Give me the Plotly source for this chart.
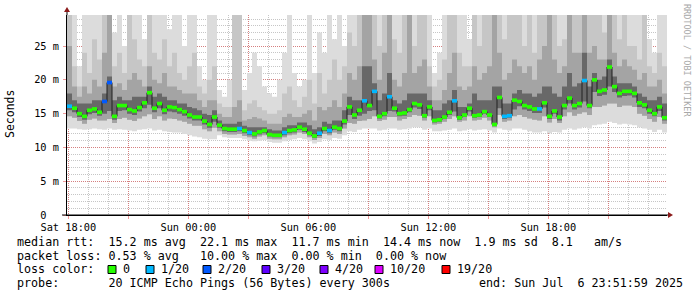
import pandas as pd
import plotly.graph_objects as go

# ---------------- data (15-minute samples) ----------------
t_start = pd.Timestamp("2025-07-05 17:56:00")
t_end = pd.Timestamp("2025-07-06 23:56:00")
step = pd.Timedelta(minutes=15)

median_ms = [
    16.1, 15.8, 15.0, 14.6, 15.5, 15.7, 15.2, 16.8, 19.6, 14.6,
    16.2, 16.2, 15.6, 15.4, 15.9, 16.6, 18.1, 15.8, 16.5, 15.5,
    16.0, 15.9, 15.6, 15.3, 14.8, 14.5, 14.5, 13.9, 13.4, 14.5,
    13.3, 12.8, 12.7, 12.7, 12.8, 12.5, 12.2, 12.0, 12.3, 12.5,
    11.9, 11.8, 11.8, 12.2, 12.5, 12.6, 13.0, 12.7, 12.1, 11.7,
    12.1, 12.8, 12.5, 13.0, 12.8, 13.9, 16.0, 14.8, 15.5, 16.9,
    16.2, 18.3, 14.6, 15.0, 17.5, 15.8, 15.0, 15.1, 15.6, 16.5,
    16.3, 14.7, 16.0, 14.0, 14.1, 14.5, 15.2, 16.9, 14.4, 14.8,
    15.8, 14.7, 14.8, 15.3, 14.8, 13.4, 17.4, 14.6, 14.7, 17.0,
    16.8, 16.2, 16.0, 15.7, 15.7, 16.6, 14.6, 15.4, 14.5, 16.2,
    17.3, 16.2, 16.5, 19.9, 16.2, 20.0, 18.3, 18.5, 21.9, 19.0,
    18.0, 18.3, 18.3, 18.0, 16.6, 16.3, 15.5, 15.0, 16.0, 14.4,
]

loss_of_20 = [
    1, 0, 0, 0, 0, 0, 0, 2, 2, 0,  0, 0, 0, 0, 0, 0, 0, 0, 0, 0,  0, 0, 0, 0, 0, 0, 0, 0, 0, 0,
    0, 0, 0, 0, 1, 0, 1, 0, 0, 0,  0, 0, 0, 1, 0, 0, 0, 0, 0, 0,  1, 0, 1, 0, 0, 0, 0, 0, 0, 1,
    0, 1, 0, 0, 1, 0, 0, 0, 0, 0,  0, 0, 0, 0, 0, 0, 0, 1, 0, 0,  0, 0, 0, 0, 0, 0, 0, 1, 1, 0,
    0, 0, 0, 0, 1, 0, 0, 0, 0, 0,  0, 0, 0, 1, 0, 0, 0, 0, 0, 0,  0, 0, 0, 0, 0, 0, 0, 0, 0, 0,
]

# smoke envelope (ms); 30 = beyond the top of the graph
smoke_max = [
    30, 30, 22, 30, 30, 30, 30, 30, 30, 27,  30, 25, 30, 30, 30, 26, 30, 30, 30, 30,
    27.5, 30, 30, 25, 30, 30, 22, 20, 30, 30,
    18.5, 17.5, 20, 30, 30, 18.5, 21, 24, 22, 19,  18, 17.5, 20, 24, 30, 21, 19, 20, 30, 21,
    27, 24, 30, 26, 30, 25, 30, 30, 30, 30,
    30, 30, 30, 30, 30, 30, 30, 30, 30, 30,  30, 30, 30, 21, 24, 30, 30, 30, 30, 30,
    26, 30, 30, 30, 30, 30, 30, 30, 30, 30,
    30, 30, 30, 30, 30, 30, 30, 30, 30, 30,  30, 30, 30, 30, 30, 30, 30, 30, 30, 30,
    30, 30, 30, 30, 30, 30, 26, 24, 30, 30,
]
smoke_hi2 = [
    30, 22, 19, 24, 21, 26, 23, 30, 30, 22,  24, 21, 30, 26, 23, 22, 30, 24, 23, 26,
    22, 24, 21, 20, 22, 24, 19, 18, 20, 22,
    16.5, 16, 16, 30, 30, 15.5, 16.5, 17, 16, 15.5,  15, 15, 15.5, 18, 19, 17, 16, 17.5, 20, 16.5,
    21, 18, 20, 23, 20, 22, 27, 25, 30, 30,
    30, 30, 25, 30, 30, 26, 24, 30, 30, 25,  30, 30, 22, 19, 20, 23, 30, 30, 24, 22,
    22, 30, 25, 30, 30, 30, 30, 26, 30, 30,
    30, 25, 30, 24, 30, 30, 30, 30, 25, 26,  30, 30, 30, 30, 30, 30, 30, 27, 30, 30,
    26, 30, 25, 25, 23, 30, 22, 21, 24, 22,
]
smoke_hi3 = [
    25, 19, 17.5, 19, 18, 20, 19, 24, 30, 19,  19.5, 18.5, 20, 21, 20, 19, 22, 20, 19.5, 21,
    19, 19, 18.5, 18, 18, 18, 17, 16, 17, 17,
    15, 14.5, 14.5, 16, 17, 14, 14.2, 14.5, 14.3, 14,  13.5, 13.5, 13.5, 14.5, 15, 14.5, 14.5, 15, 15.5, 14,
    16, 15.5, 16, 17, 16, 18, 21, 20, 22, 30,
    30, 23, 20, 24, 30, 20, 19, 21, 30, 21,  22, 23, 19, 17, 17, 18.5, 21, 24, 19, 18.5,
    19, 22, 20, 21, 22, 30, 24, 20, 21, 23,
    22, 21, 22, 20, 23, 25, 30, 23, 21, 22,  30, 24, 24, 30, 24, 25, 23, 23, 30, 24,
    22, 23, 22, 21.5, 20, 21, 19, 19, 20, 18,
]
smoke_hi4 = [
    18, 17, 16.5, 16.5, 16.5, 17, 17, 18, 20.5, 17,  17.5, 17, 17, 17.5, 17.5, 17.5, 19, 17.5, 18, 17.5,
    17, 17, 16.5, 16.5, 16, 15.8, 15.5, 15, 14.8, 15.5,
    14, 13.5, 13.5, 13.5, 13.8, 13.2, 13, 13, 13, 13,  12.7, 12.5, 12.5, 13, 13.3, 13.3, 13.7, 13.7, 13.3, 12.7,
    13, 13.8, 13.5, 14, 14, 15.5, 17.5, 17, 17, 22,
    22, 19.5, 17, 18, 21, 17, 16.5, 17, 18, 18,  18, 18, 17, 15.5, 15.5, 16.5, 17, 18.5, 16, 16,
    16.5, 18, 17, 17, 17, 19, 19, 16.5, 16.5, 18,
    18.5, 18, 18, 17.5, 18, 19, 19, 18, 17.5, 19,  21, 19, 19.5, 24, 19, 21, 20, 20.5, 23, 20.5,
    19.5, 19.5, 19.5, 19, 18, 17.5, 17, 17, 17.5, 16.5,
]
smoke_lo4 = [
    15.5, 15.2, 14.5, 14.1, 14.9, 15.1, 14.7, 15.0, 15.4, 14.1,  15.4, 15.5, 15.0, 14.8, 15.3, 15.8, 16.3, 15.2, 15.8, 14.9,
    15.3, 15.2, 15.0, 14.7, 14.3, 14.0, 14.0, 13.4, 12.9, 13.8,
    12.9, 12.4, 12.3, 12.3, 12.4, 12.1, 11.8, 11.6, 11.9, 12.1,  11.6, 11.5, 11.5, 11.8, 12.1, 12.2, 12.6, 12.3, 11.8, 11.4,
    11.7, 12.4, 12.1, 12.6, 12.4, 13.4, 14.8, 14.2, 14.7, 15.0,
    15.4, 15.5, 14.3, 14.6, 15.4, 15.3, 14.6, 14.7, 15.2, 15.9,  15.7, 14.4, 15.5, 13.7, 13.8, 14.2, 14.8, 15.3, 14.1, 14.5,
    15.3, 14.4, 14.5, 15.0, 14.5, 13.2, 15.8, 14.2, 14.4, 15.6,
    16.1, 15.6, 15.4, 15.1, 15.1, 15.9, 14.2, 15.0, 14.0, 15.6,  16.5, 15.6, 15.9, 16.8, 15.8, 18.2, 17.6, 17.8, 19.0, 18.2,
    17.4, 17.6, 17.7, 17.4, 16.0, 15.8, 15.0, 14.6, 15.4, 14.0,
]
smoke_lo3 = [
    14.6, 14.4, 13.9, 13.5, 14.1, 14.3, 14.0, 14.0, 14.2, 13.6,  14.2, 14.4, 14.1, 13.9, 14.3, 14.6, 14.9, 14.2, 14.6, 14.0,
    14.3, 14.2, 14.0, 13.8, 13.5, 13.2, 13.2, 12.7, 12.4, 12.9,
    12.4, 12.0, 11.9, 11.9, 12.0, 11.7, 11.5, 11.3, 11.6, 11.8,  11.3, 11.2, 11.2, 11.5, 11.8, 11.9, 12.2, 12.0, 11.5, 11.1,
    11.4, 12.0, 11.8, 12.2, 12.0, 12.8, 13.6, 13.5, 13.9, 14.0,
    14.2, 14.6, 13.9, 14.1, 14.5, 14.5, 14.0, 14.2, 14.5, 14.8,  14.7, 14.0, 14.6, 13.4, 13.5, 13.8, 14.2, 14.6, 13.8, 14.0,
    14.6, 14.0, 14.1, 14.4, 14.0, 13.0, 14.8, 13.8, 14.0, 14.6,
    14.8, 14.5, 14.3, 14.1, 14.0, 14.6, 13.7, 14.2, 13.6, 14.6,  15.2, 14.7, 15.0, 15.2, 14.8, 16.0, 16.0, 16.2, 16.5, 16.5,
    16.0, 16.2, 16.2, 16.0, 15.0, 14.7, 14.2, 13.8, 14.5, 13.5,
]
smoke_min = [
    12.8, 12.8, 12.7, 12.6, 12.7, 12.8, 12.7, 12.6, 12.8, 12.6,  12.7, 12.6, 12.5, 12.4, 12.6, 12.7, 12.8, 12.5, 12.6, 12.4,
    12.3, 12.2, 12.2, 12.0, 11.8, 11.6, 11.5, 11.3, 11.2, 11.2,
    11.8, 11.5, 11.4, 11.4, 11.4, 11.2, 11.0, 10.9, 11.0, 11.1,  10.8, 10.7, 10.7, 10.9, 11.1, 11.2, 11.4, 11.2, 10.9, 10.6,
    10.8, 11.2, 11.1, 11.4, 11.3, 11.8, 12.4, 12.3, 12.6, 12.8,
    12.8, 12.8, 12.5, 12.6, 12.8, 12.8, 12.6, 12.7, 12.8, 13.0,  13.0, 12.6, 12.8, 12.4, 12.4, 12.5, 12.6, 12.8, 12.4, 12.5,
    12.7, 12.5, 12.6, 12.7, 12.5, 12.2, 12.8, 12.6, 12.5, 12.8,
    12.8, 12.6, 12.4, 12.2, 12.2, 12.4, 12.1, 12.3, 12.2, 12.6,  12.8, 12.6, 12.8, 13.0, 12.8, 13.3, 13.4, 13.5, 13.8, 13.6,
    13.4, 13.5, 13.4, 13.3, 13.0, 12.8, 12.6, 12.3, 12.6, 12.2,
]

x_tick_vals = list(pd.date_range("2025-07-05 18:00", "2025-07-06 21:00", freq="3h"))
x_tick_text = ["Sat 18:00", "", "Sun 00:00", "", "Sun 06:00", "", "Sun 12:00", "", "Sun 18:00", ""]
y_tick_vals = [0, 5, 10, 15, 20, 25]
y_tick_text = ["0\u00a0\u00a0", "5 m", "10 m", "15 m", "20 m", "25 m"]

loss_levels = [0, 1, 2, 3, 4, 10, 19]
loss_colors = ["#26ff00", "#00b8ff", "#0059ff", "#5e00ff", "#7e00ff", "#dd00ff", "#ff0000"]
loss_labels = ["0", "1/20", "2/20", "3/20", "4/20", "10/20", "19/20"]

legend_rows = [
    "median rtt:  15.2 ms avg  22.1 ms max  11.7 ms min  14.4 ms now  1.9 ms sd  8.1   am/s",
    "packet loss: 0.53 % avg   10.00 % max  0.00 % min  0.00 % now",
    "loss color:",
    "probe:       20 ICMP Echo Pings (56 Bytes) every 300s",
]
end_text = "end: Sun Jul  6 23:51:59 2025"

# ---------------- figure ----------------
MONO = "DejaVu Sans Mono"
W, H = 697, 297
L, R, T, B = 67, 30, 15, 82
PW, PH = W - L - R, H - T - B


def px(xp):
    return (xp - L) / PW


def py(yp):
    return (T + PH - yp) / PH


def nb(s):
    return s.replace(" ", "\u00a0")


n = len(median_ms)
times = [t_start + step * i for i in range(n)]
xs = times + [t_end]


def ext(a):
    return list(a) + [a[-1]]


fig = go.Figure()

bands = [
    (smoke_min, smoke_max, "#dcdcdc"),
    (smoke_lo3, smoke_hi2, "#c6c6c6"),
    (smoke_lo3, smoke_hi3, "#a4a4a4"),
    (smoke_lo4, smoke_hi4, "#686868"),
]
for lo, hi, col in bands:
    fig.add_trace(go.Scatter(x=xs, y=ext(lo), mode="lines", line=dict(width=0, shape="hv"),
                             hoverinfo="skip", showlegend=False))
    fig.add_trace(go.Scatter(x=xs, y=ext(hi), mode="lines", line=dict(width=0, shape="hv"),
                             fill="tonexty", fillcolor=col, hoverinfo="skip", showlegend=False))

fig.add_trace(go.Scatter(x=xs, y=ext(median_ms), mode="lines",
                         line=dict(width=1, color="#202020", shape="hv"),
                         hoverinfo="skip", showlegend=False))

# loss-coloured median blocks, one short segment per sample
for lev, col in zip(loss_levels, loss_colors):
    idx = [i for i, l in enumerate(loss_of_20) if l == lev]
    if not idx:
        continue
    sx, sy = [], []
    for i in idx:
        sx += [times[i], times[i] + step, None]
        sy += [median_ms[i], median_ms[i], None]
    fig.add_trace(go.Scatter(x=sx, y=sy, mode="lines", line=dict(width=3.6, color=col),
                             connectgaps=False, hoverinfo="skip", showlegend=False))

red_grid = "rgba(225,70,70,0.55)"
gray_grid = "rgba(120,120,120,0.42)"
axis_font = dict(family=MONO, size=10.3, color="#000000")

fig.update_layout(
    width=W, height=H,
    margin=dict(l=L, r=R, t=T, b=B, pad=0),
    paper_bgcolor="#ffffff", plot_bgcolor="#ffffff",
    showlegend=False,
    xaxis=dict(
        type="date", range=[t_start, t_end],
        tickmode="array", tickvals=x_tick_vals, ticktext=x_tick_text,
        tickfont=axis_font, ticks="outside", ticklen=3, tickcolor=red_grid,
        showgrid=True, gridcolor=red_grid, gridwidth=1, griddash="1px,1px",
        minor=dict(dtick=3600000, tick0="2025-07-05 18:00", showgrid=True,
                   gridcolor=gray_grid, griddash="1px,1px", ticks=""),
        showline=True, linecolor="#000000", linewidth=1,
        zeroline=False, layer="above traces", fixedrange=True,
    ),
    yaxis=dict(
        range=[0, 29.6],
        tickmode="array", tickvals=y_tick_vals, ticktext=y_tick_text,
        tickfont=axis_font, ticks="outside", ticklen=3, tickcolor=red_grid,
        ticklabelstandoff=2,
        showgrid=True, gridcolor=red_grid, gridwidth=1, griddash="1px,1px",
        minor=dict(dtick=1, showgrid=True, gridcolor=gray_grid, griddash="1px,1px", ticks=""),
        showline=True, linecolor="#000000", linewidth=1,
        zeroline=False, layer="above traces", fixedrange=True,
    ),
)

ann = []
ann.append(dict(text="Seconds", xref="paper", yref="paper", x=px(10), y=py(114),
                xanchor="center", yanchor="middle", textangle=-90, showarrow=False,
                font=dict(family=MONO, size=11.5, color="#000000")))
ann.append(dict(text=nb("RRDTOOL / TOBI OETIKER"), xref="paper", yref="paper", x=px(687), y=py(60),
                xanchor="center", yanchor="middle", textangle=90, showarrow=False,
                font=dict(family=MONO, size=8.5, color="#a8a8a8")))
row_y = [241.7, 255.7, 269.3, 283.3]
leg_font = dict(family=MONO, size=11.7, color="#000000")
for txt, yy in zip(legend_rows, row_y):
    ann.append(dict(text=nb(txt), xref="paper", yref="paper", x=px(16), y=py(yy),
                    xanchor="left", yanchor="middle", showarrow=False, borderpad=0, font=leg_font))
ann.append(dict(text=nb(end_text), xref="paper", yref="paper", x=px(478), y=py(row_y[3]),
                xanchor="left", yanchor="middle", showarrow=False, borderpad=0, font=leg_font))

sq_x = [108, 146, 203, 262, 320, 375, 442]
lab_x = [122, 160, 217, 276, 334, 389, 456]
shapes = []
for sxp, lx, col, lab in zip(sq_x, lab_x, loss_colors, loss_labels):
    shapes.append(dict(type="rect", xref="paper", yref="paper",
                       x0=px(sxp), x1=px(sxp + 8), y0=py(273.5), y1=py(265.5),
                       fillcolor=col, line=dict(color="#000000", width=1)))
    ann.append(dict(text=lab, xref="paper", yref="paper", x=px(lx), y=py(row_y[2]),
                    xanchor="left", yanchor="middle", showarrow=False, borderpad=0, font=leg_font))

arrow_col = "#8b1a1a"
shapes.append(dict(type="line", xref="paper", yref="paper", x0=0, x1=0, y0=1, y1=py(11),
                   line=dict(color="#000000", width=1)))
shapes.append(dict(type="path", xref="paper", yref="paper",
                   path=f"M {px(64)},{py(12)} L {px(70)},{py(12)} L {px(67)},{py(7)} Z",
                   fillcolor=arrow_col, line=dict(color=arrow_col, width=0)))
shapes.append(dict(type="line", xref="paper", yref="paper", x0=px(62), x1=px(669), y0=0, y1=0,
                   line=dict(color="#000000", width=1)))
shapes.append(dict(type="path", xref="paper", yref="paper",
                   path=f"M {px(668)},{py(212)} L {px(668)},{py(218)} L {px(673)},{py(215)} Z",
                   fillcolor=arrow_col, line=dict(color=arrow_col, width=0)))

fig.update_layout(annotations=ann, shapes=shapes)
fig.write_html("out.html")
